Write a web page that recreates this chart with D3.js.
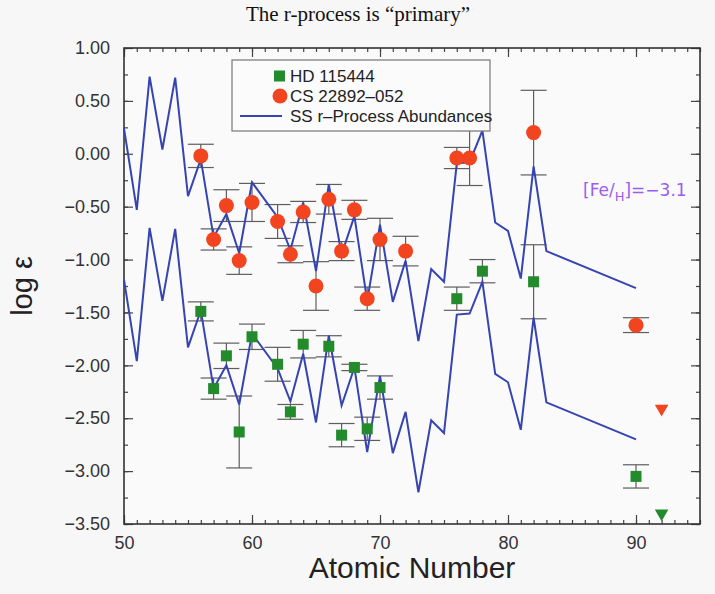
<!DOCTYPE html>
<html>
<head>
<meta charset="utf-8">
<script src="https://cdn.jsdelivr.net/npm/d3@7/dist/d3.min.js"></script>
<style>
  html, body { margin: 0; padding: 0; background: #f7f7f7; }
  svg { display: block; }
</style>
</head>
<body>
<svg id="chart" width="715" height="594"></svg>
<script>
// Solar-system r-process pattern, scaled to CS 22892-052 (log eps)
const ssZ = [50, 51, 52, 53, 54, 55, 56, 57, 58, 59, 60, 62, 63, 64, 65, 66, 67, 68, 69, 70,
             71, 72, 73, 74, 75, 76, 77, 78, 79, 80, 81, 82, 83, 90];
const ssLogEps = [0.24, -0.53, 0.73, 0.04, 0.72, -0.40, -0.05, -0.79, -0.57, -0.94, -0.27, -0.60,
                  -0.91, -0.46, -1.11, -0.29, -0.95, -0.59, -1.39, -0.67, -1.40, -1.01, -1.77,
                  -1.09, -1.21, -0.09, -0.08, 0.22, -0.65, -0.73, -1.18, -0.12, -0.92, -1.27];
// Same pattern shifted down for HD 115444
const hdShift = -1.43;

// CS 22892-052 measurements
const csZ   = [56, 57, 58, 59, 60, 62, 63, 64, 65, 66, 67, 68, 69, 70, 72, 76, 77, 82, 90];
const csVal = [-0.02, -0.81, -0.49, -1.01, -0.46, -0.64, -0.95, -0.55, -1.25, -0.43, -0.92,
               -0.53, -1.37, -0.81, -0.92, -0.04, -0.04, 0.20, -1.62];
const csErr = [0.11, 0.10, 0.15, 0.13, 0.18, 0.16, 0.08, 0.10, 0.23, 0.14, 0.09, 0.09, 0.11,
               0.20, 0.14, 0.10, 0.26, 0.40, 0.07];
const csLimitZ = [92];
const csLimit  = [-2.41];

// HD 115444 measurements
const hdZ   = [56, 57, 58, 59, 60, 62, 63, 64, 66, 67, 68, 69, 70, 76, 78, 82, 90];
const hdVal = [-1.49, -2.22, -1.91, -2.63, -1.73, -1.99, -2.44, -1.80, -1.82, -2.66, -2.02,
               -2.60, -2.21, -1.37, -1.11, -1.21, -3.05];
const hdErr = [0.09, 0.10, 0.12, 0.34, 0.12, 0.16, 0.07, 0.13, 0.10, 0.11, 0.03, 0.11, 0.11,
               0.11, 0.11, 0.35, 0.11];
const hdLimitZ = [92];
const hdLimit  = [-3.40];

const xTicks = [50, 60, 70, 80, 90];
const yTicks = [1.0, 0.5, 0.0, -0.5, -1.0, -1.5, -2.0, -2.5, -3.0, -3.5];

const svg = d3.select("#chart");
const plotL = 124, plotR = 700, plotT = 48, plotB = 524;

const x = d3.scaleLinear().domain([50, 95]).range([plotL, plotR]);
const y = d3.scaleLinear().domain([-3.5, 1.0]).range([plotB, plotT]);

const RED = "#f2441f", GREEN = "#238b2c", BLUE = "#3644b2", ERR = "#5e5e5e";
const sans = "'Liberation Sans', Arial, Helvetica, sans-serif";

// plot background
svg.append("rect").attr("x", plotL).attr("y", plotT)
  .attr("width", plotR - plotL).attr("height", plotB - plotT)
  .attr("fill", "#fafafa");

// title
svg.append("text").attr("x", 358).attr("y", 21)
  .attr("text-anchor", "middle")
  .attr("font-family", "'Liberation Serif', 'Times New Roman', serif")
  .attr("font-size", 21).attr("fill", "#111")
  .text("The r-process is \u201Cprimary\u201D");

// axes: inward ticks on all four sides
const fmt = d => d3.format(".2f")(d).replace("-", "\u2212");
const minorX = d3.range(50, 96, 1);
const minorY = d3.range(-3.5, 1.001, 0.25);

function styleAxis(g) {
  g.select(".domain").remove();
  g.selectAll(".tick line").attr("stroke", "#444").attr("stroke-width", 1.2);
  g.selectAll("text").attr("font-family", sans).attr("font-size", 18).attr("fill", "#333");
}

svg.append("g").attr("transform", `translate(0,${plotB})`)
  .call(d3.axisBottom(x).tickValues(minorX).tickSize(-4).tickFormat(""))
  .call(styleAxis);
svg.append("g").attr("transform", `translate(0,${plotB})`)
  .call(d3.axisBottom(x).tickValues(xTicks).tickSize(-9).tickPadding(12).tickFormat(d3.format("d")))
  .call(styleAxis);
svg.append("g").attr("transform", `translate(0,${plotT})`)
  .call(d3.axisTop(x).tickValues(minorX).tickSize(-4).tickFormat(""))
  .call(styleAxis);
svg.append("g").attr("transform", `translate(0,${plotT})`)
  .call(d3.axisTop(x).tickValues(xTicks).tickSize(-9).tickFormat(""))
  .call(styleAxis);

svg.append("g").attr("transform", `translate(${plotL},0)`)
  .call(d3.axisLeft(y).tickValues(minorY).tickSize(-4).tickFormat(""))
  .call(styleAxis);
svg.append("g").attr("transform", `translate(${plotL},0)`)
  .call(d3.axisLeft(y).tickValues(yTicks).tickSize(-9).tickPadding(14).tickFormat(fmt))
  .call(styleAxis);
svg.append("g").attr("transform", `translate(${plotR},0)`)
  .call(d3.axisRight(y).tickValues(minorY).tickSize(-4).tickFormat(""))
  .call(styleAxis);
svg.append("g").attr("transform", `translate(${plotR},0)`)
  .call(d3.axisRight(y).tickValues(yTicks).tickSize(-9).tickFormat(""))
  .call(styleAxis);

// frame
svg.append("rect").attr("x", plotL).attr("y", plotT)
  .attr("width", plotR - plotL).attr("height", plotB - plotT)
  .attr("fill", "none").attr("stroke", "#333").attr("stroke-width", 1.6);

// axis titles
svg.append("text").attr("x", (plotL + plotR) / 2).attr("y", 578)
  .attr("text-anchor", "middle").attr("font-family", sans)
  .attr("font-size", 30).attr("fill", "#222").text("Atomic Number");
svg.append("text")
  .attr("transform", `translate(32,${(plotT + plotB) / 2}) rotate(-90)`)
  .attr("text-anchor", "middle").attr("font-family", sans)
  .attr("font-size", 29).attr("fill", "#222").text("log \u03B5");

// error bars
function errorBars(zs, vals, errs) {
  const g = svg.append("g").attr("stroke", ERR).attr("stroke-width", 1.2).attr("fill", "none");
  zs.forEach((z, i) => {
    const cx = x(z), y0 = y(vals[i] + errs[i]), y1 = y(vals[i] - errs[i]);
    g.append("line").attr("x1", cx).attr("x2", cx).attr("y1", y0).attr("y2", y1);
    g.append("line").attr("x1", cx - 13).attr("x2", cx + 13).attr("y1", y0).attr("y2", y0);
    g.append("line").attr("x1", cx - 13).attr("x2", cx + 13).attr("y1", y1).attr("y2", y1);
  });
}
errorBars(csZ, csVal, csErr);
errorBars(hdZ, hdVal, hdErr);

// SS r-process curves
const line = d3.line().x(d => x(d[0])).y(d => y(d[1]));
const upper = ssZ.map((z, i) => [z, ssLogEps[i]]);
const lower = ssZ.map((z, i) => [z, ssLogEps[i] + hdShift]);
[upper, lower].forEach(pts => {
  svg.append("path").datum(pts).attr("d", line)
    .attr("fill", "none").attr("stroke", BLUE).attr("stroke-width", 2)
    .attr("stroke-linejoin", "miter");
});

// markers
svg.append("g").selectAll("circle").data(csZ).join("circle")
  .attr("cx", d => x(d)).attr("cy", (d, i) => y(csVal[i])).attr("r", 7.5)
  .attr("fill", RED);
svg.append("g").selectAll("rect").data(hdZ).join("rect")
  .attr("x", d => x(d) - 5.5).attr("y", (d, i) => y(hdVal[i]) - 5.5)
  .attr("width", 11).attr("height", 11).attr("fill", GREEN);

// upper limits (downward triangles)
const tri = d3.symbol().type(d3.symbolTriangle).size(80);
svg.append("g").selectAll("path").data(csLimitZ).join("path")
  .attr("d", tri).attr("fill", RED)
  .attr("transform", (d, i) => `translate(${x(d)},${y(csLimit[i])}) rotate(180)`);
svg.append("g").selectAll("path").data(hdLimitZ).join("path")
  .attr("d", tri).attr("fill", GREEN)
  .attr("transform", (d, i) => `translate(${x(d)},${y(hdLimit[i])}) rotate(180)`);

// legend
const lg = svg.append("g");
lg.append("rect").attr("x", 232).attr("y", 60).attr("width", 258).attr("height", 71)
  .attr("fill", "#fbfbfb").attr("stroke", "#777").attr("stroke-width", 1.2);
lg.append("rect").attr("x", 274).attr("y", 70.5).attr("width", 11).attr("height", 11).attr("fill", GREEN);
lg.append("circle").attr("cx", 280).attr("cy", 96).attr("r", 7.5).attr("fill", RED);
lg.append("line").attr("x1", 240).attr("x2", 282).attr("y1", 116).attr("y2", 116)
  .attr("stroke", BLUE).attr("stroke-width", 2);
const legendText = ["HD 115444", "CS 22892\u2013052", "SS r\u2013Process Abundances"];
lg.selectAll("text.lt").data(legendText).join("text").attr("class", "lt")
  .attr("x", 290).attr("y", (d, i) => 82 + i * 20)
  .attr("font-family", sans).attr("font-size", 17).attr("fill", "#222")
  .text(d => d);

// metallicity note
const note = svg.append("text").attr("x", 583).attr("y", 196)
  .attr("font-family", "'DejaVu Sans', sans-serif").attr("font-size", 17)
  .attr("fill", "#9a5cf2");
note.append("tspan").text("[Fe/");
note.append("tspan").attr("dy", 5).attr("font-size", 13).text("H");
note.append("tspan").attr("dy", -5).text("]=\u22123.1");
</script>
</body>
</html>
